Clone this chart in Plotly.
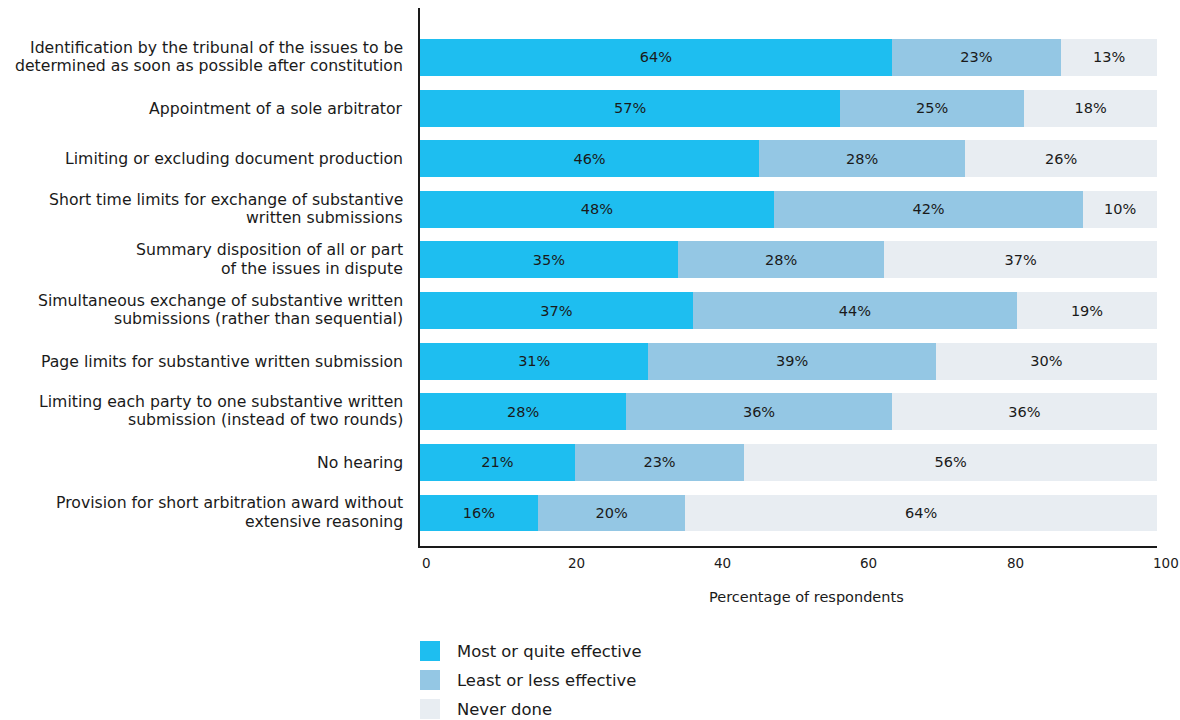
import plotly.graph_objects as go

categories = [
    "Identification by the tribunal of the issues to be<br>determined as soon as possible after constitution",
    "Appointment of a sole arbitrator",
    "Limiting or excluding document production",
    "Short time limits for exchange of substantive<br>written submissions",
    "Summary disposition of all or part<br>of the issues in dispute",
    "Simultaneous exchange of substantive written<br>submissions (rather than sequential)",
    "Page limits for substantive written submission",
    "Limiting each party to one substantive written<br>submission (instead of two rounds)",
    "No hearing",
    "Provision for short arbitration award without<br>extensive reasoning",
]
most_effective = [64, 57, 46, 48, 35, 37, 31, 28, 21, 16]
less_effective = [23, 25, 28, 42, 28, 44, 39, 36, 23, 20]
never_done = [13, 18, 26, 10, 37, 19, 30, 36, 56, 64]
series_names = ["Most or quite effective", "Least or less effective", "Never done"]
colors = ["#1EBEF0", "#94C7E4", "#E8EDF2"]
tick_vals = [0, 20, 40, 60, 80, 100]
x_title = "Percentage of respondents"

FONT = "DejaVu Sans, Liberation Sans, Arial, sans-serif"
TXT = "#1a1a1a"
fig = go.Figure()
for name, vals, col in zip(series_names, [most_effective, less_effective, never_done], colors):
    fig.add_trace(go.Bar(
        y=categories, x=vals, name=name, orientation="h",
        marker=dict(color=col, line=dict(width=0)),
        text=[f"{v}%" for v in vals], textposition="inside",
        insidetextanchor="middle", textangle=0,
        textfont=dict(size=14.5, color=TXT, family=FONT),
        showlegend=False, hoverinfo="skip",
    ))

L, R, T, B = 420, 23, 8, 174
W, H = 1180, 720
pw, ph = W - L - R, H - T - B

fig.update_layout(
    barmode="stack", bargap=0.27,
    width=W, height=H,
    margin=dict(l=L, r=R, t=T, b=B, pad=0),
    paper_bgcolor="white", plot_bgcolor="white",
    font=dict(family=FONT, size=15, color=TXT),
    uniformtext=dict(minsize=14, mode="show"),
)
n = len(categories)
fig.update_yaxes(
    range=[n - 1 + 0.652, -0.978], showgrid=False, ticks="", showticklabels=False,
    showline=True, linecolor=TXT, linewidth=1.5, fixedrange=True,
)
fig.update_xaxes(
    range=[0, 100], showgrid=False, zeroline=False, ticks="",
    showticklabels=False, showline=True, linecolor=TXT, linewidth=1.5,
    fixedrange=True,
)

ann = []
# category labels (one annotation per line for tighter line spacing)
for cat in categories:
    lines = cat.split("<br>")
    k = len(lines)
    for j, line in enumerate(lines):
        ann.append(dict(x=0, xref="paper", y=cat, yref="y", text=line, showarrow=False,
                        xanchor="right", yanchor="middle", xshift=-15,
                        yshift=((k - 1) / 2 - j) * 18.4 + (1 if k > 1 else 0),
                        font=dict(size=15.7, family=FONT, color=TXT)))
for t in tick_vals:
    ann.append(dict(x=t, xref="x", y=(546 - 563) / ph, yref="paper",
                    text=str(t), showarrow=False, xanchor="left", yanchor="middle",
                    xshift=-t / 16, font=dict(size=13.5, family=FONT, color=TXT)))
ann.append(dict(x=52.4, xref="x", y=(546 - 597) / ph, yref="paper", text=x_title,
                showarrow=False, xanchor="center", yanchor="middle",
                font=dict(size=14.5, family=FONT, color=TXT)))

shapes = []
leg_y = [651, 680, 709]
for name, col, py in zip(series_names, colors, leg_y):
    y0 = (546 - (py + 10)) / ph
    y1 = (546 - (py - 10)) / ph
    shapes.append(dict(type="rect", xref="paper", yref="paper", x0=0, x1=20 / pw,
                       y0=y0, y1=y1, fillcolor=col, line=dict(width=0)))
    ann.append(dict(x=35 / pw, xref="paper", y=(546 - py) / ph, yref="paper", text=name,
                    showarrow=False, xanchor="left", yanchor="middle",
                    font=dict(size=16.4, family=FONT, color=TXT)))

fig.update_layout(annotations=ann, shapes=shapes)
fig.write_html("out.html", config={"displayModeBar": False},
               post_script="document.body.style.margin='0';")
